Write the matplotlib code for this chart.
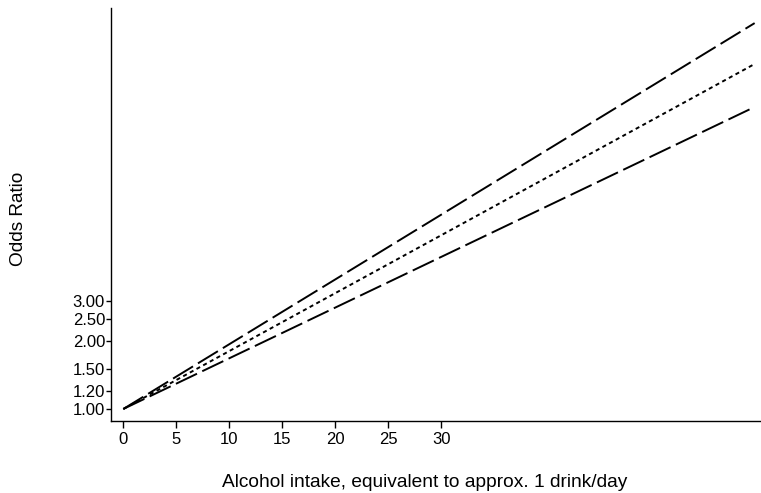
import numpy as np
import matplotlib
matplotlib.use("Agg")
import matplotlib.pyplot as plt

plt.rcParams["font.family"] = ["Liberation Sans", "DejaVu Sans"]

# 酒精摄入量 (x) 与 OR 及 95% CI，对数尺度上为直线，取两端点
dose = [0, 59.6]
or_est = [1.0, 33.1]
or_low = [1.0, 21.4]
or_high = [1.0, 50.1]

xticks = [0, 5, 10, 15, 20, 25, 30]
yticks = [1.00, 1.20, 1.50, 2.00, 2.50, 3.00]
ytick_labels = ["1.00", "1.20", "1.50", "2.00", "2.50", "3.00"]


def main():
    fig = plt.figure(figsize=(7.61, 4.93), dpi=100)
    ax = fig.add_axes([0.1459, 0.1460, 0.8541, 0.8378])

    ax.plot(dose, or_high, color="black", lw=1.4, dashes=(12, 3))
    ax.plot(dose, or_est, color="black", lw=1.4, dashes=(2.1, 1.8))
    ax.plot(dose, or_low, color="black", lw=1.4, dashes=(12, 3))

    ax.set_yscale("log")
    ax.set_xlim(-1.16, 60.2)
    ax.set_ylim(0.885, 58.4)
    ax.set_xticks(xticks)
    ax.set_yticks(yticks)
    ax.set_yticklabels(ytick_labels)
    ax.yaxis.set_minor_locator(matplotlib.ticker.NullLocator())
    ax.tick_params(axis="both", labelsize=12, width=1.0, color="black")
    ax.tick_params(axis="x", length=5, pad=3)
    ax.tick_params(axis="y", length=3.5, pad=0.8)

    for s in ["top", "right"]:
        ax.spines[s].set_visible(False)
    for s in ["left", "bottom"]:
        ax.spines[s].set_linewidth(1.0)

    ax.set_xlabel("Alcohol intake, equivalent to approx. 1 drink/day", fontsize=13.8)
    ax.set_ylabel("Odds Ratio", fontsize=13.7)
    ax.xaxis.set_label_coords(0.482, -0.150)
    ax.xaxis.label.set_va("center")
    ax.yaxis.set_label_coords(-0.143, 0.490)
    ax.yaxis.label.set_va("center")

    fig.savefig("out.png", dpi=100)
    plt.close(fig)


if __name__ == "__main__":
    main()
